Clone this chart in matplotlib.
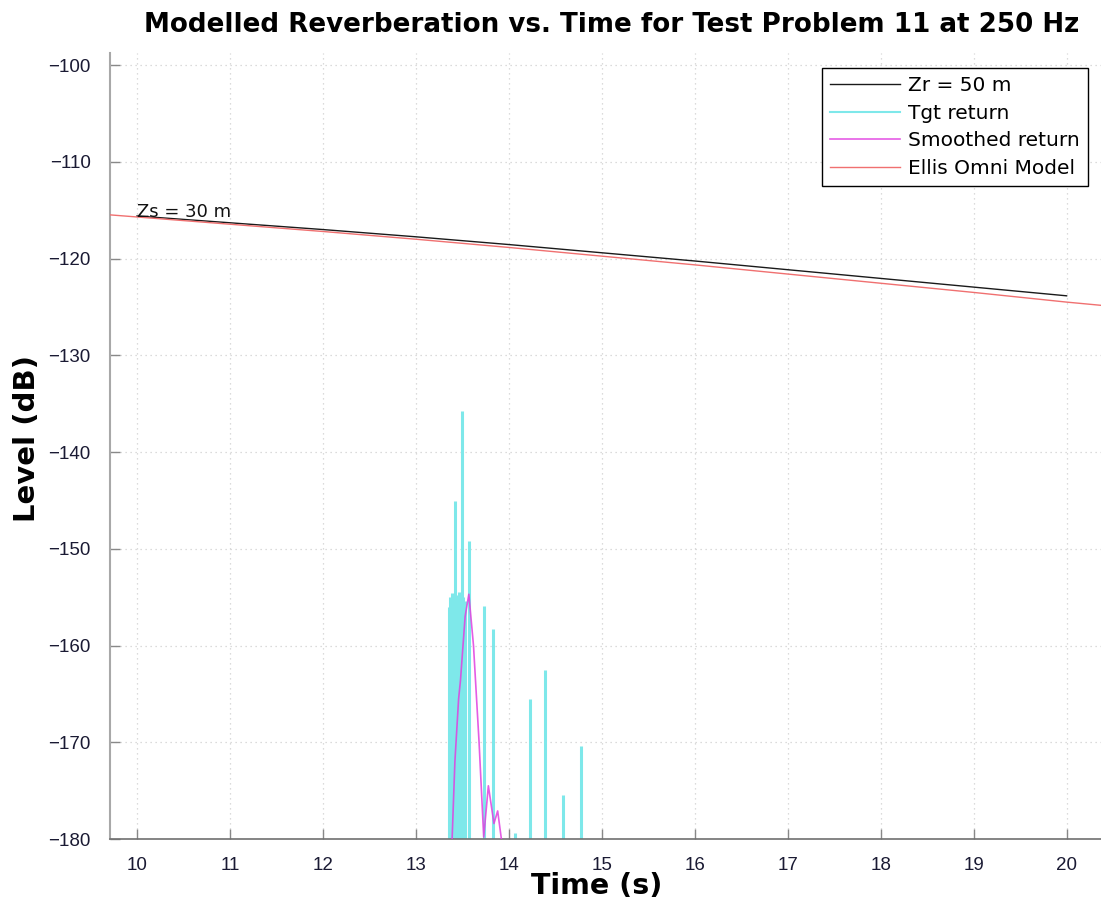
import matplotlib
matplotlib.use("Agg")
import matplotlib.pyplot as plt

plt.rcParams['font.family'] = ['Liberation Sans', 'DejaVu Sans']

# ---- data ----
zr_t = [10.0, 11.0, 12.0, 13.0, 14.0, 15.0, 16.0, 17.0, 18.0, 19.0, 20.0]
zr_level = [-115.6, -116.3, -117.0, -117.75, -118.55, -119.4, -120.25, -121.15, -122.05,
            -122.95, -123.85]

ellis_t = [9.6, 10.0, 11.0, 12.0, 13.0, 14.0, 15.0, 16.0, 17.0, 18.0, 19.0, 20.0, 20.5]
ellis_level = [-115.4, -115.7, -116.45, -117.2, -118.0, -118.85, -119.75, -120.65, -121.6,
               -122.55, -123.5, -124.5, -124.95]

tgt_t = [13.36, 13.37, 13.385, 13.40, 13.416, 13.43, 13.445, 13.46, 13.475, 13.485,
         13.498, 13.51, 13.525, 13.57, 13.73, 13.83, 14.07, 14.23, 14.39, 14.58, 14.78]
tgt_level = [-156.0, -155.0, -154.6, -155.2, -145.1, -154.8, -155.0, -154.5, -155.3, -155.0,
             -135.8, -155.0, -155.4, -149.2, -155.9, -158.3, -179.4, -165.5, -162.5, -175.4, -170.4]

smooth_t = [13.39, 13.42, 13.46, 13.48, 13.53, 13.57, 13.62, 13.68, 13.73,
            13.78, 13.84, 13.88, 13.92]
smooth_level = [-180.0, -172.0, -165.5, -163.6, -157.0, -154.7, -160.0, -170.0, -179.8,
                -174.5, -178.4, -177.1, -180.0]

legend_labels = ['Zr = 50 m', 'Tgt return', 'Smoothed return', 'Ellis Omni Model']
title = 'Modelled Reverberation vs. Time for Test Problem 11 at 250 Hz'
xticks = list(range(10, 21))
yticks = list(range(-180, -99, 10))
floor_db = -180

# ---- figure ----
fig = plt.figure(figsize=(11.01, 9.08), dpi=100)
ax = fig.add_axes([110 / 1101, 1 - 839 / 908, 991 / 1101, (839 - 53) / 908])

l_zr, = ax.plot(zr_t, zr_level, color='#1a1a1a', lw=1.0, zorder=3)
ax.vlines(tgt_t, floor_db, tgt_level, color='#7ee8ea', lw=2.2, zorder=2)
l_tgt, = ax.plot([], [], color='#7ee8ea', lw=1.5)
l_sm, = ax.plot(smooth_t, smooth_level, color='#e040e0', lw=1.2, alpha=0.85, zorder=4)
l_el, = ax.plot(ellis_t, ellis_level, color='#f07070', lw=1.0, zorder=3)

ax.text(10.0, -115.2, 'Zs = 30 m', fontsize=13, family='DejaVu Sans', va='center', ha='left',
        color='#111111', zorder=5)

ax.set_xlim(9.71, 20.37)
ax.set_ylim(-180, -98.75)
ax.set_xticks(xticks)
ax.set_yticks(yticks)
ax.set_yticklabels(['\u2212%d' % (-v) for v in yticks])

ax.grid(True, color='#d0d0d0', linestyle=(0, (1, 3)), lw=0.9)
ax.set_axisbelow(True)
for s in ['top', 'right']:
    ax.spines[s].set_visible(False)
ax.spines['left'].set_color('#a8a8a8')
ax.spines['left'].set_linewidth(1.5)
ax.spines['bottom'].set_color('#707070')
ax.spines['bottom'].set_linewidth(1.2)
ax.tick_params(direction='in', length=7, width=1, colors='#888888', labelcolor='#1a1a33',
               labelsize=13.5)
ax.tick_params(axis='x', pad=13)
ax.tick_params(axis='y', pad=14)

ax.set_xlabel('Time (s)', fontsize=20.5, fontweight='bold', family='DejaVu Sans', va='center')
ax.set_ylabel('Level (dB)', fontsize=21, fontweight='bold', family='DejaVu Sans', va='center')
ax.xaxis.set_label_coords((597 - 110) / 991, (839 - 886) / 786)
ax.yaxis.set_label_coords((27 - 110) / 991, (839 - 438) / 786)
fig.text(612 / 1101, 1 - 25 / 908, title, fontsize=18.8, fontweight='bold', family='DejaVu Sans',
         ha='center', va='center')

leg = ax.legend([l_zr, l_tgt, l_sm, l_el], legend_labels, loc='upper right',
                bbox_to_anchor=(0.987, 0.981), borderaxespad=0,
                prop={'family': 'DejaVu Sans', 'size': 14.5},
                fancybox=False, framealpha=1, edgecolor='black', handlelength=3.45,
                handletextpad=0.4, labelspacing=0.42, borderpad=0.42)
leg.get_frame().set_linewidth(1.0)

fig.savefig('out.png', dpi=100)
